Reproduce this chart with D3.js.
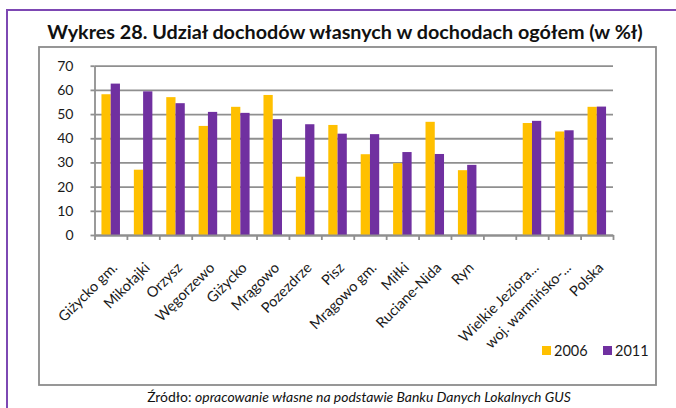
<!DOCTYPE html>
<html lang="pl">
<head>
<meta charset="utf-8">
<script src="https://cdn.jsdelivr.net/npm/d3@7/dist/d3.min.js"></script>
<style>
  html, body { margin: 0; padding: 0; background: #fff; }
  svg { display: block; font-family: Lato, "Open Sans", sans-serif; }
</style>
</head>
<body>
<svg id="chart" width="676" height="408"></svg>
<script>
// Gminy / regions (an empty slot separates the local units from the aggregates)
const categories = [
  "Giżycko gm.", "Mikołajki", "Orzysz", "Węgorzewo", "Giżycko", "Mrągowo",
  "Pozezdrze", "Pisz", "Mrągowo gm.", "Miłki", "Ruciane-Nida", "Ryn", "",
  "Wielkie Jeziora...", "woj. warmińsko-...", "Polska"
];
const seriesNames = ["2006", "2011"];
const values2006 = [58.2, 27.0, 57.0, 45.1, 53.0, 57.9, 24.1, 45.5, 33.4, 29.7, 46.8, 26.8, null, 46.3, 42.8, 53.0];
const values2011 = [62.6, 59.4, 54.5, 50.9, 50.5, 47.9, 45.8, 41.9, 41.7, 34.3, 33.5, 29.0, null, 47.2, 43.3, 53.1];
const yTicks = [0, 10, 20, 30, 40, 50, 60, 70];
const colors = ["#FFC000", "#7030A0"];

const titleText = "Wykres 28. Udział dochodów własnych w dochodach ogółem (w %ł)";
const sourceLead = "Źródło: ";
const sourceRest = "opracowanie własne na podstawie Banku Danych Lokalnych GUS";

const svg = d3.select("#chart");

// outer purple frame (continues past the right and bottom edges)
svg.append("path")
  .attr("d", "M7,420 V10 H690")
  .attr("fill", "none")
  .attr("stroke", "#7d48b3")
  .attr("stroke-width", 2);

// title, fitted to its width
const title = svg.append("text")
  .attr("x", 345).attr("y", 39)
  .attr("text-anchor", "middle")
  .attr("font-weight", "bold")
  .attr("font-size", 18)
  .attr("fill", "#111")
  .text(titleText);
{
  const w = title.node().getComputedTextLength();
  title.attr("font-size", 18 * 596 / w);
}

// chart area box
svg.append("rect")
  .attr("x", 39).attr("y", 47).attr("width", 617).attr("height", 338)
  .attr("fill", "#fff")
  .attr("stroke", "#8c8c8c")
  .attr("stroke-width", 1.8);

const plot = { left: 94.5, right: 613, top: 65.7, bottom: 235 };

const y = d3.scaleLinear().domain([0, 70]).range([plot.bottom, plot.top]);
const x = d3.scaleBand()
  .domain(d3.range(categories.length))
  .range([plot.left, plot.right])
  .paddingInner(0).paddingOuter(0);
const bw = x.bandwidth();
const barW = bw / 3.5;          // gap width 150%
const xSeries = d3.scaleBand()
  .domain(seriesNames)
  .range([0.75 * barW, 0.75 * barW + 2 * barW]);

// horizontal gridlines
svg.append("g")
  .attr("transform", `translate(${plot.left},0)`)
  .call(d3.axisLeft(y).tickValues(yTicks).tickSize(-(plot.right - plot.left)).tickFormat(""))
  .call(g => g.select(".domain").remove())
  .call(g => g.selectAll("line").attr("stroke", "#8f8f8f").attr("stroke-width", 1.8));

// bars
const series = [values2006, values2011];
series.forEach((vals, si) => {
  svg.append("g")
    .selectAll("rect")
    .data(vals.map((v, i) => ({ v, i })).filter(d => d.v != null))
    .join("rect")
    .attr("x", d => x(d.i) + xSeries(seriesNames[si]))
    .attr("width", xSeries.bandwidth())
    .attr("y", d => y(d.v))
    .attr("height", d => y(0) - y(d.v))
    .attr("fill", colors[si]);
});

// y axis
svg.append("g")
  .attr("transform", `translate(${plot.left},0)`)
  .call(d3.axisLeft(y).tickValues(yTicks).tickSize(4).tickPadding(17).tickSizeOuter(0))
  .call(g => g.select(".domain").attr("stroke", "#8f8f8f").attr("stroke-width", 1.8))
  .call(g => g.selectAll("line").attr("stroke", "#8f8f8f").attr("stroke-width", 1.8))
  .call(g => g.selectAll("text").attr("font-size", 14).attr("fill", "#1a1a1a")
    .attr("font-family", "Lato, sans-serif"));

// x axis: boundary ticks
const xEdges = d3.scaleLinear().domain([0, categories.length]).range([plot.left, plot.right]);
svg.append("g")
  .attr("transform", `translate(0,${plot.bottom})`)
  .call(d3.axisBottom(xEdges).tickValues(d3.range(categories.length + 1)).tickSize(5).tickSizeOuter(0).tickFormat(""))
  .call(g => g.select(".domain").attr("stroke", "#8f8f8f").attr("stroke-width", 1.8))
  .call(g => g.selectAll("line").attr("stroke", "#8f8f8f").attr("stroke-width", 1.8));

// x axis: rotated category labels
svg.append("g")
  .attr("transform", `translate(0,${plot.bottom})`)
  .call(d3.axisBottom(x).tickSize(0).tickFormat(i => categories[i]))
  .call(g => g.select(".domain").remove())
  .call(g => g.selectAll("text")
    .attr("font-size", 14.5)
    .attr("fill", "#1a1a1a")
    .attr("font-family", "Lato, sans-serif")
    .attr("text-anchor", "end")
    .attr("x", 0).attr("y", 0).attr("dy", "0.35em")
    .attr("transform", "translate(4,30) rotate(-45)"));

// legend
const legend = svg.append("g").attr("transform", "translate(542,346)");
const legendX = [0, 61];
seriesNames.forEach((name, i) => {
  const item = legend.append("g").attr("transform", `translate(${legendX[i]},0)`);
  item.append("rect").attr("width", 9).attr("height", 9).attr("fill", colors[i]);
  item.append("text").attr("x", 12).attr("y", 9.5)
    .attr("font-size", 14.5).attr("fill", "#1a1a1a").text(name);
});

// source note
const src = svg.append("text")
  .attr("x", 359).attr("y", 402)
  .attr("text-anchor", "middle")
  .attr("font-size", 13)
  .attr("fill", "#111");
src.append("tspan").text(sourceLead);
src.append("tspan").attr("font-style", "italic").text(sourceRest);
{
  const w = src.node().getComputedTextLength();
  src.attr("font-size", 13 * 424 / w);
}
</script>
</body>
</html>
